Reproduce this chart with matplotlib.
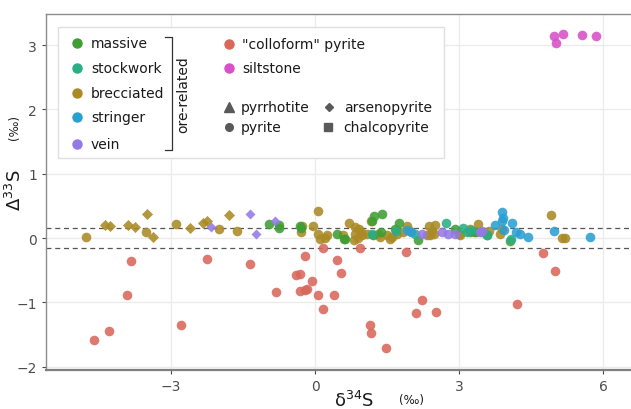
import numpy as np
import matplotlib
matplotlib.use("Agg")
from matplotlib import pyplot as plt
from matplotlib.patches import Rectangle

# d34S / D33S values (per mil)
colloform_x = [-4.60, -4.30, -3.91, -3.83, -2.80, -2.26, -1.35, -0.81, -0.21, -0.39, -0.31, -0.07,
               -0.31, -0.16, -0.20, 0.07, 0.16, 0.17, 0.39, 0.45, 0.54, 0.94, 1.15, 1.17, 1.47,
               1.90, 2.22, 2.11, 2.53, 4.21, 4.74, 5.01]
colloform_y = [-1.59, -1.44, -0.89, -0.36, -1.35, -0.33, -0.41, -0.84, -0.28, -0.58, -0.56, -0.67,
               -0.82, -0.80, -0.81, -0.89, -1.11, -0.15, -0.89, -0.34, -0.55, -0.15, -1.35, -1.47, -1.71,
               -0.22, -0.96, -1.16, -1.15, -1.02, -0.23, -0.52]

siltstone_x = [4.98, 5.16, 5.03, 5.56, 5.85]
siltstone_y = [3.14, 3.18, 3.03, 3.15, 3.14]

brecciated_py_x = [-4.78, -3.53, -2.90, -1.99, -1.62, -0.28, -0.30, -0.05, 0.07, 0.07, 0.10, 0.21,
                   0.24, 0.58, 0.71, 0.83, 0.92, 0.96, 0.83, 0.82, 0.90, 0.97, 1.08, 1.17, 1.32,
                   1.35, 1.49, 1.56, 1.60, 1.70, 1.91, 1.98, 1.84, 2.38, 2.50, 2.43, 2.40, 2.47,
                   2.33, 2.99, 3.02, 3.23, 3.40, 3.47, 3.63, 3.31, 3.85, 3.89, 4.92, 5.14, 5.21]
brecciated_py_y = [0.01, 0.10, 0.22, 0.14, 0.11, 0.19, 0.10, 0.19, 0.42, 0.06, -0.02, 0.00,
                   0.04, 0.04, 0.23, 0.17, 0.14, 0.09, 0.06, -0.03, 0.00, 0.04, 0.06, 0.26, 0.06,
                   0.01, 0.04, -0.02, 0.01, 0.06, 0.19, 0.11, 0.09, 0.19, 0.20, 0.11, 0.04, 0.06,
                   0.04, 0.06, 0.04, 0.14, 0.22, 0.09, 0.11, 0.09, 0.06, 0.14, 0.35, 0.00, 0.00]
brecciated_apy_x = [-4.37, -4.27, -3.90, -3.75, -3.51, -3.37, -2.60, -2.34, -2.26, -1.79]
brecciated_apy_y = [0.21, 0.19, 0.21, 0.17, 0.37, 0.02, 0.16, 0.24, 0.26, 0.35]

vein_apy_x = [-2.16, -1.35, -1.22, -0.84]
vein_apy_y = [0.17, 0.37, 0.06, 0.26]
vein_py_x = [2.22, 2.64, 2.78, 2.92, 3.47, 3.44]
vein_py_y = [0.06, 0.10, 0.06, 0.06, 0.11, 0.09]

massive_x = [-0.95, -0.74, -0.74, -0.29, -0.31, 0.45, 0.63, 0.61, 1.18, 1.22, 1.40, 1.20, 1.37,
             1.74, 1.67, 2.15, 2.92, 3.23, 3.35, 3.58, 4.06]
massive_y = [0.22, 0.20, 0.16, 0.16, 0.19, 0.06, -0.02, -0.02, 0.27, 0.34, 0.37, 0.05, 0.09,
             0.23, 0.14, -0.03, 0.14, 0.10, 0.10, 0.05, -0.04]

stockwork_x = [1.18, 1.69, 2.08, 2.73, 3.09, 3.16, 3.25, 3.58, 4.08]
stockwork_y = [0.07, 0.11, 0.06, 0.23, 0.15, 0.09, 0.12, 0.04, -0.02]

stringer_x = [1.92, 2.01, 3.74, 3.89, 3.92, 3.89, 3.94, 4.10, 4.19, 4.27, 4.44, 4.98, 5.73]
stringer_y = [0.13, 0.09, 0.21, 0.40, 0.31, 0.27, 0.13, 0.23, 0.09, 0.07, 0.01, 0.11, 0.01]

colors = {
    "massive": "#3f9e33",
    "stockwork": "#2bad85",
    "brecciated": "#a98a25",
    "stringer": "#2a9fd2",
    "vein": "#9379e6",
    "colloform": "#d9675a",
    "siltstone": "#d84fc8",
}

fig = plt.figure(figsize=(6.31, 4.10), dpi=100)
ax = fig.add_axes([46 / 631, 39 / 410, 585 / 631, 356 / 410])

ax.set_xlim(-5.604, 6.583)
ax.set_ylim(-2.053, 3.484)
ax.set_xticks([-3, 0, 3, 6])
ax.set_yticks([-2, -1, 0, 1, 2, 3])
ax.grid(True, color="#ebebeb", linewidth=1.0, zorder=0)
ax.set_axisbelow(True)
ax.tick_params(colors="#4d4d4d", labelsize=10, length=3, width=0.8)
for side in ["top", "left"]:
    ax.spines[side].set_color("#8c8c8c")
    ax.spines[side].set_linewidth(1.0)
ax.spines["bottom"].set_color("#7f7f7f")
ax.spines["bottom"].set_linewidth(1.6)
ax.spines["right"].set_visible(False)

# +/- 0.15 band
ax.axhline(0.15, color="#555555", linestyle=(0, (4, 3)), linewidth=0.9, zorder=1)
ax.axhline(-0.15, color="#555555", linestyle=(0, (4, 3)), linewidth=0.9, zorder=1)

kw = dict(alpha=0.88, linewidths=0, zorder=3)
ax.scatter(brecciated_py_x, brecciated_py_y, s=48, marker="o", color=colors["brecciated"], **kw)
ax.scatter(brecciated_apy_x, brecciated_apy_y, s=32, marker="D", color=colors["brecciated"], **kw)
ax.scatter(massive_x, massive_y, s=48, marker="o", color=colors["massive"], **kw)
ax.scatter(stockwork_x, stockwork_y, s=48, marker="o", color=colors["stockwork"], **kw)
ax.scatter(stringer_x, stringer_y, s=48, marker="o", color=colors["stringer"], **kw)
ax.scatter(vein_py_x, vein_py_y, s=48, marker="o", color=colors["vein"], **kw)
ax.scatter(vein_apy_x, vein_apy_y, s=26, marker="D", color=colors["vein"], **kw)
ax.scatter(colloform_x, colloform_y, s=48, marker="o", color=colors["colloform"], **kw)
ax.scatter(siltstone_x, siltstone_y, s=48, marker="o", color=colors["siltstone"], **kw)

# legend, drawn by hand in pixel coordinates of the figure
def px(x, y):
    return x / 631, 1 - y / 410

box = Rectangle(px(58, 159), 386 / 631, 131 / 410, transform=fig.transFigure,
                facecolor="white", edgecolor="#e0e0e0", linewidth=1.0, zorder=5)
fig.add_artist(box)

left_items = [("massive", "massive"), ("stockwork", "stockwork"), ("brecciated", "brecciated"),
              ("stringer", "stringer"), ("vein", "vein")]
left_rows = [44, 69, 94, 118, 145]
for (key, label), yy in zip(left_items, left_rows):
    fig.add_artist(plt.Line2D([px(77, yy)[0]], [px(77, yy)[1]], marker="o", markersize=6.5,
                              color=colors[key], linestyle="", transform=fig.transFigure, zorder=6))
    fig.text(*px(91, yy), label, fontsize=10, va="center", ha="left", color="#1a1a1a", zorder=6)

# bracket for ore-related group
bx = [px(165, 38)[0], px(172, 38)[0], px(172, 151)[0], px(165, 151)[0]]
by = [px(165, 38)[1], px(172, 38)[1], px(172, 151)[1], px(165, 151)[1]]
fig.add_artist(plt.Line2D(bx, by, color="#333333", linewidth=0.9, transform=fig.transFigure, zorder=6))
fig.text(*px(183, 95), "ore-related", fontsize=10, rotation=90, va="center", ha="center",
         color="#1a1a1a", zorder=6)

for key, label, yy in [("colloform", '"colloform" pyrite', 45), ("siltstone", "siltstone", 69)]:
    fig.add_artist(plt.Line2D([px(229, yy)[0]], [px(229, yy)[1]], marker="o", markersize=6.5,
                              color=colors[key], linestyle="", transform=fig.transFigure, zorder=6))
    fig.text(*px(242, yy), label, fontsize=10, va="center", ha="left", color="#1a1a1a", zorder=6)

shape_items = [("^", "pyrrhotite", 229, 108, 6.5), ("o", "pyrite", 229, 128, 5.5),
               ("D", "arsenopyrite", 329, 108, 4.5), ("s", "chalcopyrite", 328, 128, 5.5)]
for mk, label, xx, yy, ms in shape_items:
    fig.add_artist(plt.Line2D([px(xx, yy)[0]], [px(xx, yy)[1]], marker=mk, markersize=ms,
                              color="#595959", linestyle="", transform=fig.transFigure, zorder=6))
    fig.text(*px(xx + 12 + (3 if mk in "Ds" else 0), yy), label, fontsize=10, va="center",
             ha="left", color="#1a1a1a", zorder=6)

# axis titles
fig.text(*px(354, 401), "δ$^{34}$S", fontsize=13, ha="center", va="center", color="#1a1a1a")
fig.text(*px(411, 401), "(‰)", fontsize=8.5, ha="center", va="center", color="#1a1a1a")
fig.text(*px(15, 190), "Δ$^{33}$S", fontsize=13, rotation=90, ha="center", va="center",
         color="#1a1a1a")
fig.text(*px(14, 127), "(‰)", fontsize=8.5, rotation=90, ha="center", va="center", color="#1a1a1a")

fig.savefig("out.png", dpi=100)
